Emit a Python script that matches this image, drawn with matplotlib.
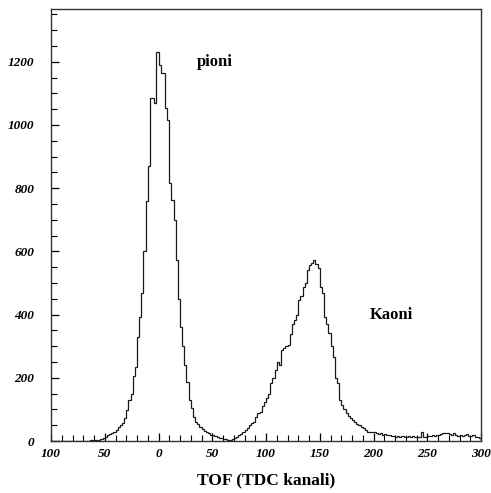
import numpy as np
import matplotlib
matplotlib.use("Agg")
import matplotlib.pyplot as plt
from matplotlib.ticker import MultipleLocator, FuncFormatter

# histogram of TOF, 2 TDC channel bins from -100 to 300
bin_start = -100
bin_width = 2

counts_left = [0] * 15  # -100 .. -70

counts_pion = [0, 1, 0, 2, 3, 3, 4, 3, 5, 8, 14, 19, 22, 26, 30, 35, 45, 52, 58, 72,
               98, 130, 150, 205, 235, 330, 393, 467, 600, 760, 870, 1085, 1085, 1070,
               1232, 1190, 1163, 1163, 1053, 1016, 815, 763, 700, 573, 450, 360, 300,
               240, 188, 130, 103, 77, 61, 55, 45, 38, 32, 28, 24, 20, 18, 15, 12, 10,
               9, 7, 5]

counts_kaon = [4, 3, 6, 10, 14, 19, 22, 29, 35, 42, 50, 56, 61, 75, 88, 93, 110, 124,
               135, 150, 182, 200, 225, 250, 240, 288, 295, 300, 304, 340, 370, 383,
               400, 446, 460, 488, 500, 541, 556, 562, 573, 560, 546, 488, 467, 393,
               370, 341, 300, 267, 200, 182, 130, 115, 100, 88, 80, 72, 66, 60, 55, 51,
               45, 40, 35, 30, 29, 27, 30, 25, 22, 24, 20]

counts_tail = [22, 18, 20, 15, 17, 14, 16, 13, 15, 12, 14, 16, 13, 15, 12, 14, 13, 30,
               14, 12, 15, 16, 18, 17, 20, 19, 22, 24, 26, 25, 22, 20, 24, 18, 17, 20,
               16, 19, 22, 17, 15, 18, 12, 14, 10]

counts = np.array(counts_left + counts_pion + counts_kaon + counts_tail)
edges = bin_start + bin_width * np.arange(len(counts) + 1)

serif = ["Liberation Serif", "DejaVu Serif"]

fig = plt.figure(figsize=(4.91, 4.93), dpi=100)
ax = fig.add_axes([51 / 491, 1 - 441 / 493, 430 / 491, 432 / 493])

ax.stairs(counts, edges, color="#1a1a1a", lw=0.9)

ax.set_xlim(-100, 300)
ax.set_ylim(0, 1367)

ax.xaxis.set_major_locator(MultipleLocator(50))
ax.xaxis.set_minor_locator(MultipleLocator(10))
ax.yaxis.set_major_locator(MultipleLocator(200))
ax.yaxis.set_minor_locator(MultipleLocator(50))
# the original prints the axis values without minus signs
ax.xaxis.set_major_formatter(FuncFormatter(lambda v, p: f"{abs(int(v))}"))

ax.tick_params(which="both", direction="in", top=False, right=False)
ax.tick_params(which="major", length=6, width=0.9)
ax.tick_params(which="minor", length=4, width=0.8)
ax.tick_params(axis="y", which="major", pad=12)
ax.tick_params(axis="x", which="major", pad=5)
for lab in ax.get_xticklabels() + ax.get_yticklabels():
    lab.set_fontfamily(serif)
    lab.set_fontweight("bold")
    lab.set_fontstyle("italic")
    lab.set_fontsize(9.5)

for s in ax.spines.values():
    s.set_color("#333333")
    s.set_linewidth(1.0)

ax.text(52, 1199, "pioni", family=serif, fontweight="bold", fontsize=12,
        ha="center", va="center")
ax.text(217, 399, "Kaoni", family=serif, fontweight="bold", fontsize=12,
        ha="center", va="center")
ax.set_xlabel("TOF (TDC kanali)", family=serif, fontweight="bold", fontsize=12.5,
              labelpad=9)

fig.savefig("out.png", dpi=100)
